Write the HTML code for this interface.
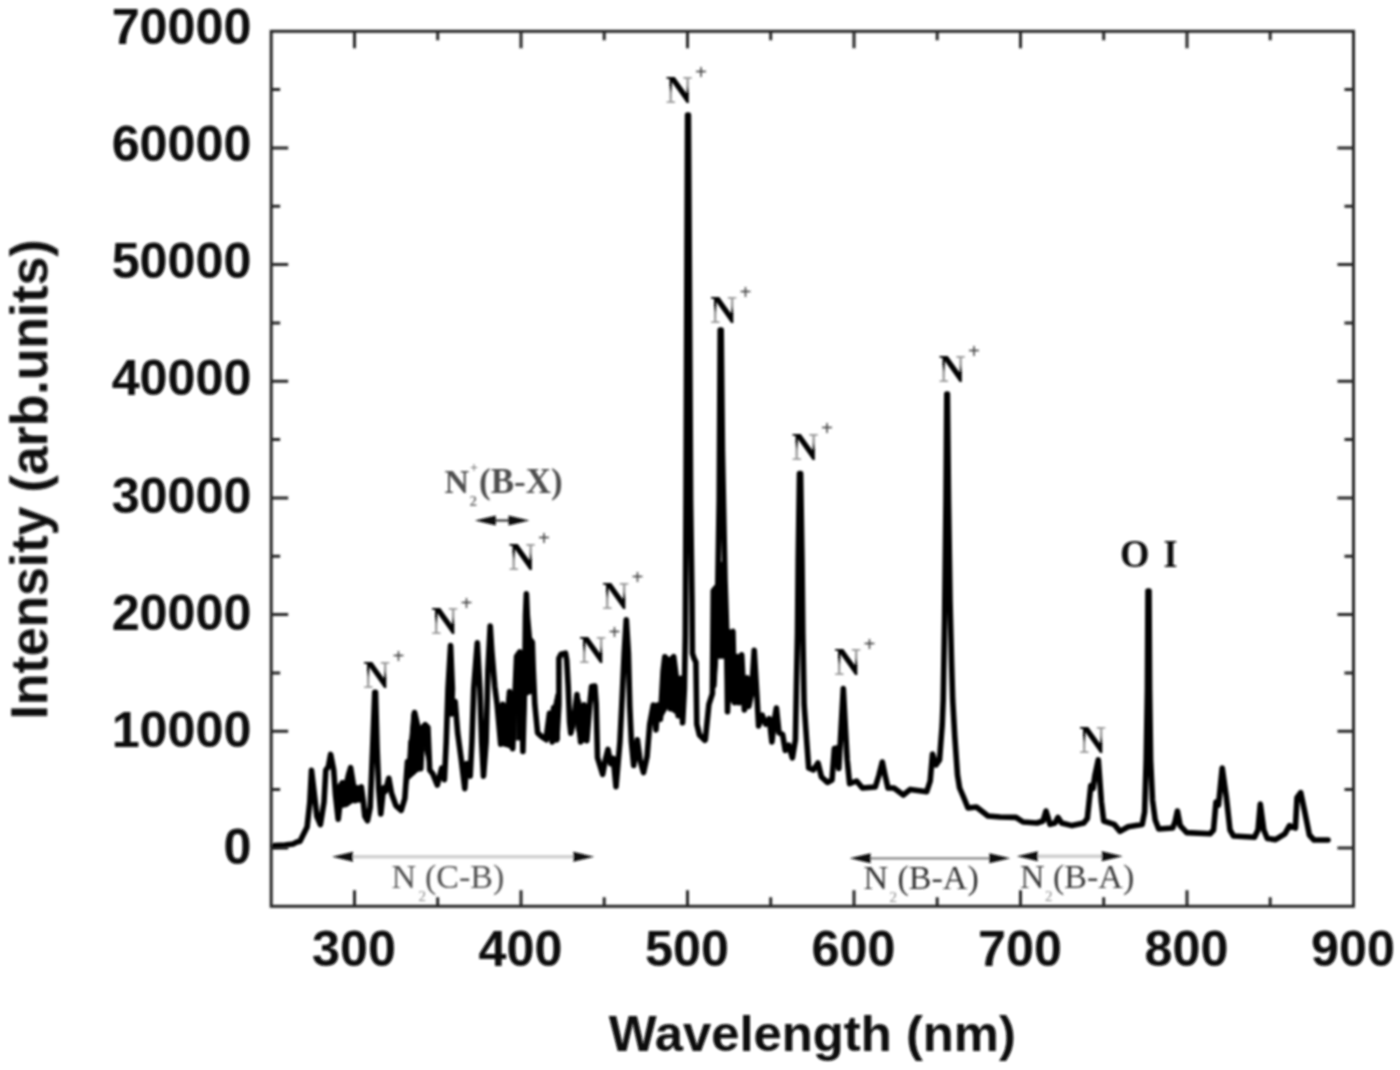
<!DOCTYPE html>
<html><head><meta charset="utf-8"><title>Spectrum</title>
<style>
html,body{margin:0;padding:0;background:#fff;}
svg{display:block;}
.ax{font-family:"Liberation Sans",sans-serif;font-weight:bold;fill:#0a0a0a;}
.lb{font-family:"Liberation Serif",serif;font-weight:bold;}
.lg{font-family:"Liberation Serif",serif;fill:#555;}
</style></head><body>
<svg width="1400" height="1070" viewBox="0 0 1400 1070">
<defs><filter id="b1" x="-5%" y="-5%" width="110%" height="110%"><feGaussianBlur stdDeviation="0.8"/></filter><linearGradient id="ng" gradientUnits="userSpaceOnUse" x1="0.2" y1="-0.3" x2="29.8" y2="-26.7"><stop offset="0" stop-color="#a8a8a8"/><stop offset="0.27" stop-color="#909090"/><stop offset="0.38" stop-color="#000"/><stop offset="0.62" stop-color="#000"/><stop offset="0.73" stop-color="#909090"/><stop offset="1" stop-color="#a8a8a8"/></linearGradient><filter id="b3" x="-5%" y="-5%" width="110%" height="110%"><feGaussianBlur stdDeviation="0.8"/></filter><filter id="b2" x="-5%" y="-5%" width="110%" height="110%"><feGaussianBlur stdDeviation="1.0"/></filter></defs>
<rect width="1400" height="1070" fill="#fff"/>
<g filter="url(#b1)" stroke="#262626" fill="none">
<rect x="271.2" y="31.3" width="1082.3" height="875.0" stroke-width="3"/>
<path d="M354.5,31.3v17M354.5,906.3v-16" stroke-width="3"/><path d="M521.0,31.3v17M521.0,906.3v-16" stroke-width="3"/><path d="M687.5,31.3v17M687.5,906.3v-16" stroke-width="3"/><path d="M854.0,31.3v17M854.0,906.3v-16" stroke-width="3"/><path d="M1020.5,31.3v17M1020.5,906.3v-16" stroke-width="3"/><path d="M1187.0,31.3v17M1187.0,906.3v-16" stroke-width="3"/><path d="M437.7,31.3v9M437.7,906.3v-9" stroke-width="3"/><path d="M604.2,31.3v9M604.2,906.3v-9" stroke-width="3"/><path d="M770.7,31.3v9M770.7,906.3v-9" stroke-width="3"/><path d="M937.2,31.3v9M937.2,906.3v-9" stroke-width="3"/><path d="M1103.7,31.3v9M1103.7,906.3v-9" stroke-width="3"/><path d="M1270.2,31.3v9M1270.2,906.3v-9" stroke-width="3"/><path d="M271.2,848.0h17M1353.5,848.0h-16" stroke-width="3"/><path d="M271.2,731.3h17M1353.5,731.3h-16" stroke-width="3"/><path d="M271.2,614.6h17M1353.5,614.6h-16" stroke-width="3"/><path d="M271.2,498.0h17M1353.5,498.0h-16" stroke-width="3"/><path d="M271.2,381.3h17M1353.5,381.3h-16" stroke-width="3"/><path d="M271.2,264.6h17M1353.5,264.6h-16" stroke-width="3"/><path d="M271.2,148.0h17M1353.5,148.0h-16" stroke-width="3"/><path d="M271.2,789.6h9M1353.5,789.6h-9" stroke-width="3"/><path d="M271.2,673.0h9M1353.5,673.0h-9" stroke-width="3"/><path d="M271.2,556.3h9M1353.5,556.3h-9" stroke-width="3"/><path d="M271.2,439.6h9M1353.5,439.6h-9" stroke-width="3"/><path d="M271.2,323.0h9M1353.5,323.0h-9" stroke-width="3"/><path d="M271.2,206.3h9M1353.5,206.3h-9" stroke-width="3"/><path d="M271.2,89.6h9M1353.5,89.6h-9" stroke-width="3"/>
</g>
<g filter="url(#b1)" stroke="#000" stroke-linejoin="round" stroke-linecap="round">
<polyline fill="none" stroke-width="5.6" points="274.5,845.5 285.0,845.0 293.0,844.0 297.0,842.0 300.0,841.2 307.1,827.0 309.8,802.1 311.5,770.3 314.2,793.2 316.9,816.3 320.4,824.6 324.0,802.1 325.8,770.1 328.4,766.6 330.6,754.4 333.7,770.1 335.5,795.0 338.2,819.2 340.9,795.0 342.3,782.8 344.4,804.1 347.1,780.8 348.8,773.7 350.6,767.7 353.3,784.3 355.1,800.6 357.7,789.7 361.3,787.0 363.1,800.3 364.8,816.3 367.5,820.7 370.2,807.4 372.6,748.8 374.8,692.3 375.5,692.3 377.1,748.8 378.7,787.9 380.8,813.9 383.5,787.9 385.3,791.4 388.8,778.3 391.5,793.2 395.9,805.6 401.2,810.4 404.8,798.5 407.5,761.5 409.2,775.7 411.0,741.9 413.3,772.2 414.6,712.6 417.6,725.7 420.8,768.6 422.6,727.5 425.2,724.8 427.9,727.5 429.7,770.1 432.9,774.1 437.3,785.0 441.7,768.1 444.4,779.7 446.2,742.1 448.0,688.8 450.6,645.5 452.4,688.8 451.5,714.0 455.1,701.5 457.7,733.2 461.3,759.9 464.8,788.6 466.6,763.6 470.2,776.1 471.9,742.1 473.7,688.8 477.3,642.9 479.9,688.8 481.7,742.1 483.5,776.1 486.1,742.1 487.9,671.0 490.2,626.0 491.8,651.0 494.8,686.6 497.1,704.3 500.7,744.3 502.8,704.3 505.6,744.3 509.5,691.5 512.7,748.7 516.6,656.4 519.8,651.9 521.6,686.6 522.9,751.4 524.6,686.6 525.5,615.5 526.4,593.9 527.3,615.5 529.4,638.6 532.3,642.2 533.2,668.8 534.8,704.3 537.6,732.8 541.5,736.3 546.0,739.3 549.5,713.2 552.2,742.0 553.6,707.9 556.8,739.9 558.9,704.3 558.9,658.2 561.0,654.2 565.5,653.2 566.7,659.9 568.2,686.6 569.6,722.1 570.8,733.1 573.5,722.1 577.0,694.6 580.6,742.0 584.1,704.9 586.8,740.7 589.8,704.3 591.6,686.6 594.8,686.0 596.2,704.3 597.5,757.6 602.7,774.3 605.3,759.9 608.0,749.4 610.7,763.7 613.3,758.3 616.0,786.8 619.9,742.1 621.7,706.6 624.2,653.3 626.3,619.8 628.4,653.3 629.8,706.6 631.4,742.1 633.7,765.5 637.3,739.7 640.0,759.9 643.5,772.6 647.1,756.3 649.7,724.3 653.3,705.0 656.0,729.9 657.7,705.0 660.4,719.3 663.1,671.0 664.8,656.8 668.4,660.4 670.2,708.6 671.9,658.6 673.7,656.8 676.4,678.2 678.2,715.7 680.8,678.4 682.6,722.8 684.4,688.8 685.3,635.5 686.0,500.0 687.0,250.0 687.6,115.0 688.4,115.0 689.2,250.0 690.6,500.0 692.0,600.0 692.4,653.3 694.1,658.6 695.9,662.2 696.8,724.3 699.5,735.0 704.8,740.3 705.3,739.9 708.9,704.3 712.4,693.7 713.3,590.7 717.8,585.3 719.2,500.0 720.2,330.0 721.2,330.0 722.4,450.0 725.0,580.0 726.6,628.0 727.5,711.7 730.2,633.3 732.9,631.5 734.6,702.8 737.3,656.6 739.1,702.8 741.7,654.8 744.4,709.9 747.1,677.9 748.8,706.4 751.5,693.7 754.2,650.4 756.8,693.7 758.6,725.9 762.2,715.2 765.7,724.1 769.3,718.8 771.9,741.9 774.6,718.5 776.4,708.1 779.0,732.8 782.6,734.5 785.3,750.5 788.8,745.2 792.4,757.9 795.4,739.9 796.4,686.6 797.5,633.3 798.2,560.0 799.5,473.5 800.6,473.5 802.0,560.0 802.8,633.3 804.1,704.3 806.6,739.9 808.7,768.0 813.4,770.0 818.0,763.0 821.5,777.0 827.4,782.4 832.0,780.0 834.4,748.5 837.0,748.0 838.8,768.5 841.0,730.0 843.3,688.6 845.5,730.0 847.2,760.0 849.6,783.6 856.6,781.0 862.4,788.0 875.3,787.0 879.0,775.0 882.3,762.0 885.0,775.0 888.0,788.0 894.0,788.0 903.3,795.0 910.3,789.4 926.7,791.7 930.2,781.0 932.5,754.0 936.0,765.0 939.5,760.0 942.2,725.0 943.2,700.0 944.6,620.0 946.0,500.0 946.8,394.0 947.4,394.0 948.5,500.0 950.0,600.0 951.5,660.0 952.7,700.0 954.8,737.0 957.5,775.0 959.6,788.0 963.5,797.0 968.0,808.0 976.4,807.0 988.0,816.0 1000.0,817.0 1016.0,817.4 1023.0,822.0 1037.0,823.0 1043.0,821.0 1046.0,811.0 1050.0,824.4 1055.0,823.0 1058.0,817.4 1061.6,823.0 1072.0,825.6 1083.8,823.0 1087.3,818.6 1090.8,785.6 1093.0,788.5 1095.0,775.0 1098.3,759.9 1101.4,802.0 1103.7,821.0 1114.2,824.4 1120.0,831.4 1128.2,826.8 1142.2,824.4 1144.6,812.0 1146.2,760.0 1147.4,690.0 1148.0,591.0 1149.0,591.0 1149.6,690.0 1150.6,760.0 1152.5,800.0 1155.2,820.0 1158.7,829.0 1172.7,828.0 1175.0,822.0 1177.4,811.0 1180.2,825.6 1186.7,832.6 1210.0,833.8 1213.5,830.0 1216.0,802.0 1218.5,805.0 1222.2,768.0 1226.4,797.6 1230.0,830.0 1233.5,836.0 1254.5,837.3 1258.0,830.0 1260.3,804.0 1263.8,830.0 1267.3,838.5 1275.5,839.6 1284.9,833.8 1289.5,825.6 1295.4,828.0 1297.0,797.6 1300.7,792.6 1304.7,811.6 1309.4,835.0 1314.0,840.0 1328.0,840.0"/>
<polygon fill="#000" stroke-width="1" points="662.2,674.6 664.3,658.6 673.7,658.6 676.4,678.2 680.8,678.2 683.5,688.8 682.6,722.6 678.2,715.5 670.2,710.1 668.4,706.6 662.2,717.2"/>
<polygon fill="#000" stroke-width="1" points="516.6,656.4 519.8,651.9 524.6,651.0 525.5,615.5 527.3,615.5 529.4,638.6 532.3,642.2 533.2,668.8 534.4,693.7 530.0,693.7 526.4,695.5 524.6,739.9 522.9,751.4 521.1,739.9 516.6,739.9"/>
<polygon fill="#000" stroke-width="1" points="499.8,704.3 506.0,704.3 507.8,693.7 511.3,693.7 514.0,704.3 514.9,739.9 511.3,748.7 505.1,746.1 500.7,744.3"/>
<polygon fill="#000" stroke-width="1" points="547.7,715.0 553.1,707.9 556.1,693.7 559.3,693.7 559.3,739.9 551.3,738.1 546.8,742.5"/>
<polygon fill="#000" stroke-width="1" points="575.3,697.2 578.8,695.5 581.5,704.3 586.8,704.3 589.5,718.5 587.3,740.7 582.4,742.5 578.8,739.9 576.1,727.4"/>
<polygon fill="#000" stroke-width="1" points="711.7,690.1 712.1,590.7 717.8,585.3 718.5,562.2 725.9,562.2 727.0,628.0 732.9,631.5 734.6,668.8 733.7,704.3 730.2,700.8 728.4,713.2 726.3,711.4 724.9,658.2 717.8,658.2 716.0,686.6"/>
<polygon fill="#000" stroke-width="1" points="405.7,791.4 408.3,755.9 411.9,713.3 415.1,710.6 418.1,725.7 422.6,727.5 425.2,724.8 428.2,727.5 429.7,770.1 424.3,748.8 422.6,731.0 421.1,770.1 417.2,771.9 409.2,779.0"/>
<polygon fill="#000" stroke-width="1" points="334.6,787.9 341.7,780.8 347.1,780.8 350.6,766.6 353.3,784.3 361.3,787.0 364.3,795.0 364.8,816.3 362.2,802.1 353.3,802.1 347.1,806.5 341.7,807.4 338.2,819.9 335.5,795.0"/>
</g>
<g class="ax" filter="url(#b3)" font-size="50.3">
<text transform="translate(251.5,863.6) scale(1.0,1)" text-anchor="end">0</text><text transform="translate(251.5,746.5) scale(1.0,1)" text-anchor="end">10000</text><text transform="translate(251.5,629.5) scale(1.0,1)" text-anchor="end">20000</text><text transform="translate(251.5,512.5) scale(1.0,1)" text-anchor="end">30000</text><text transform="translate(251.5,395.4) scale(1.0,1)" text-anchor="end">40000</text><text transform="translate(251.5,278.4) scale(1.0,1)" text-anchor="end">50000</text><text transform="translate(251.5,161.3) scale(1.0,1)" text-anchor="end">60000</text><text transform="translate(251.5,44.3) scale(1.0,1)" text-anchor="end">70000</text><text transform="translate(354.0,965.7) scale(1.0,1)" text-anchor="middle">300</text><text transform="translate(520.5,965.7) scale(1.0,1)" text-anchor="middle">400</text><text transform="translate(687.0,965.7) scale(1.0,1)" text-anchor="middle">500</text><text transform="translate(853.5,965.7) scale(1.0,1)" text-anchor="middle">600</text><text transform="translate(1020.0,965.7) scale(1.0,1)" text-anchor="middle">700</text><text transform="translate(1186.5,965.7) scale(1.0,1)" text-anchor="middle">800</text><text transform="translate(1353.0,965.7) scale(1.0,1)" text-anchor="middle">900</text>
<text transform="translate(812.3,1050.6) scale(1.016,1)" text-anchor="middle" font-size="50">Wavelength (nm)</text>
<text transform="translate(47.2,479.5) rotate(-90) scale(1.005,1)" text-anchor="middle" font-size="51.5">Intensity (arb.units)</text>
</g>
<g class="lb" filter="url(#b1)">
<text transform="translate(665.7,103) scale(0.9,1)" font-size="41" fill="url(#ng)">N</text><text x="701" y="78.5" font-size="21" text-anchor="middle" style="fill:#3a3a3a">+</text><text transform="translate(710.2,323) scale(0.9,1)" font-size="41" fill="url(#ng)">N</text><text x="745.5" y="298.5" font-size="21" text-anchor="middle" style="fill:#3a3a3a">+</text><text transform="translate(791.7,459.5) scale(0.9,1)" font-size="41" fill="url(#ng)">N</text><text x="827" y="435.0" font-size="21" text-anchor="middle" style="fill:#3a3a3a">+</text><text transform="translate(938.7,382) scale(0.9,1)" font-size="41" fill="url(#ng)">N</text><text x="974" y="357.5" font-size="21" text-anchor="middle" style="fill:#3a3a3a">+</text><text transform="translate(834.2,675) scale(0.9,1)" font-size="41" fill="url(#ng)">N</text><text x="869.5" y="650.5" font-size="21" text-anchor="middle" style="fill:#3a3a3a">+</text><text transform="translate(508.7,569.5) scale(0.9,1)" font-size="41" fill="url(#ng)">N</text><text x="544" y="545.0" font-size="21" text-anchor="middle" style="fill:#3a3a3a">+</text><text transform="translate(431.2,634) scale(0.9,1)" font-size="41" fill="url(#ng)">N</text><text x="466.5" y="609.5" font-size="21" text-anchor="middle" style="fill:#3a3a3a">+</text><text transform="translate(363.2,687.5) scale(0.9,1)" font-size="41" fill="url(#ng)">N</text><text x="398.5" y="663.0" font-size="21" text-anchor="middle" style="fill:#3a3a3a">+</text><text transform="translate(602.2,608.5) scale(0.9,1)" font-size="41" fill="url(#ng)">N</text><text x="637.5" y="584.0" font-size="21" text-anchor="middle" style="fill:#3a3a3a">+</text><text transform="translate(579.2,663) scale(0.9,1)" font-size="41" fill="url(#ng)">N</text><text x="614.5" y="638.5" font-size="21" text-anchor="middle" style="fill:#3a3a3a">+</text><text transform="translate(1079.2,753) scale(0.9,1)" font-size="41" fill="url(#ng)">N</text><text transform="translate(1120,567) scale(0.95,1)" font-size="40" fill="#111">O</text><text transform="translate(1163.5,567) scale(0.9,1)" font-size="40" fill="#111">I</text>
</g>
<g filter="url(#b2)">
<g class="lb" style="fill:#4e4e4e"><text x="444.5" y="493" font-size="34">N</text><text x="469.5" y="506" font-size="15" style="fill:#777">2</text><text x="470" y="472" font-size="14" style="fill:#777">+</text><text x="479" y="493" font-size="35">(B-X)</text></g>
<g class="lg" style="fill:#505050"><text x="391.5" y="888" font-size="34">N</text><text x="418.5" y="901" font-size="15" style="fill:#888">2</text><text x="425" y="888" font-size="34">(C-B)</text></g>
<g class="lg" style="fill:#333"><text x="863.5" y="889" font-size="34">N</text><text x="889.5" y="902" font-size="15" style="fill:#888">2</text><text x="897.5" y="889" font-size="34">(B-A)</text></g>
<g class="lg" style="fill:#3a3a3a"><text x="1020" y="887.5" font-size="34">N</text><text x="1045" y="900.5" font-size="15" style="fill:#888">2</text><text x="1053" y="887.5" font-size="34">(B-A)</text></g>
<path d="M493.8,520.5H510.5" stroke="#333" stroke-width="2.2" fill="none"/><path d="M474.8,520.5l21,-5v10z M529.5,520.5l-21,-5v10z" fill="#111"/>
<path d="M351,856.8H575.3" stroke="#d2d2d2" stroke-width="3.6" fill="none"/><path d="M332,856.8l21,-5v10z M594.3,856.8l-21,-5v10z" fill="#111"/>
<path d="M868.6,858.3H991.3" stroke="#888" stroke-width="2.2" fill="none"/><path d="M849.6,858.3l21,-5v10z M1010.3,858.3l-21,-5v10z" fill="#111"/>
<path d="M1035.8,856.3H1103.8" stroke="#cfcfcf" stroke-width="3.6" fill="none"/><path d="M1016.8,856.3l21,-5v10z M1122.8,856.3l-21,-5v10z" fill="#111"/>
</g>
</svg>
</body></html>
